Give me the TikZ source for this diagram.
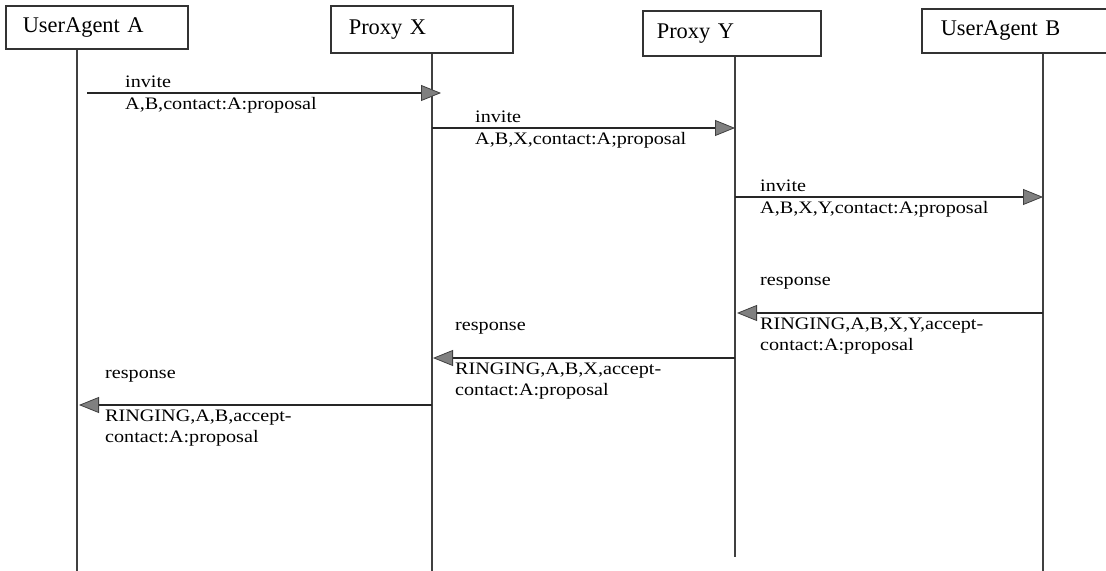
\documentclass[tikz,border=0pt]{standalone}
\usepackage{fontspec}
\setmainfont{Liberation Serif}
\newfontfamily\msgfont[FakeStretch=1.15]{Liberation Serif}
\usetikzlibrary{arrows.meta}
\begin{document}
\begin{tikzpicture}[x=1bp,y=-1bp,
  actor/.style={draw=black!80, line width=1.6bp, anchor=north west,
    align=left, font=\fontsize{22.5}{26}\selectfont, inner ysep=0pt},
  life/.style={draw=black!75, line width=1.3bp},
  msg/.style={draw=black!85, line width=1.8bp,
    -{Triangle[length=20bp,width=16bp,fill=black!50,color=black!75,line width=0.8bp]}},
  lbl/.style={inner sep=0pt, align=left,
    font=\msgfont\fontsize{17.6}{20.5}\selectfont}]
\useasboundingbox (0,0) rectangle (1106,571);

% participant boxes
\node[actor, minimum width=182bp, minimum height=43bp, inner xsep=17bp,
  text width=148bp] (boxA) at (5,5) {UserAgent A};
\node[actor, minimum width=182bp, minimum height=47bp, inner xsep=18bp,
  text width=146bp] (boxX) at (330,5) {Proxy X};
\node[actor, minimum width=178bp, minimum height=45bp, inner xsep=14bp,
  text width=150bp] (boxY) at (642,10) {Proxy Y};
\node[actor, minimum width=200bp, minimum height=44bp, inner xsep=19bp,
  text width=162bp] (boxB) at (921,8) {UserAgent B};

% lifelines
\coordinate (endA) at (77,571);
\coordinate (endX) at (432,571);
\coordinate (endY) at (735,557);
\coordinate (endB) at (1043,571);
\draw[life] (boxA.south -| endA) -- (endA);
\draw[life] (boxX.south -| endX) -- (endX);
\draw[life] (boxY.south -| endY) -- (endY);
\draw[life] (boxB.south -| endB) -- (endB);

% invite A -> X
\coordinate (m1s) at (87,93);
\coordinate (m1e) at (441,93);
\draw[msg] (m1s) -- (m1e);
\node[lbl, anchor=base west] (t1a) at (125,88) {invite};
\node[lbl, anchor=base west] (t1b) at (125,110) {A,B,contact:A:proposal};

% invite X -> Y
\coordinate (m2s) at (432,128);
\coordinate (m2e) at (735,128);
\draw[msg] (m2s) -- (m2e);
\node[lbl, anchor=base west] (t2a) at (475,123) {invite};
\node[lbl, anchor=base west] (t2b) at (475,145) {A,B,X,contact:A;proposal};

% invite Y -> B
\coordinate (m3s) at (735,197);
\coordinate (m3e) at (1043,197);
\draw[msg] (m3s) -- (m3e);
\node[lbl, anchor=base west] (t3a) at (760,192) {invite};
\node[lbl, anchor=base west] (t3b) at (760,214) {A,B,X,Y,contact:A;proposal};

% response B -> Y
\coordinate (m4s) at (1043,313);
\coordinate (m4e) at (737,313);
\draw[msg] (m4s) -- (m4e);
\node[lbl, anchor=base west] (t4a) at (760,286) {response};
\node[lbl, anchor=north west] (t4b) at (760,318) {RINGING,A,B,X,Y,accept-\\contact:A:proposal};

% response Y -> X
\coordinate (m5s) at (735,358);
\coordinate (m5e) at (433,358);
\draw[msg] (m5s) -- (m5e);
\node[lbl, anchor=base west] (t5a) at (455,331) {response};
\node[lbl, anchor=north west] (t5b) at (455,363) {RINGING,A,B,X,accept-\\contact:A:proposal};

% response X -> A
\coordinate (m6s) at (432,405);
\coordinate (m6e) at (79,405);
\draw[msg] (m6s) -- (m6e);
\node[lbl, anchor=base west] (t6a) at (105,378) {response};
\node[lbl, anchor=north west] (t6b) at (105,410) {RINGING,A,B,accept-\\contact:A:proposal};
\end{tikzpicture}
\end{document}
